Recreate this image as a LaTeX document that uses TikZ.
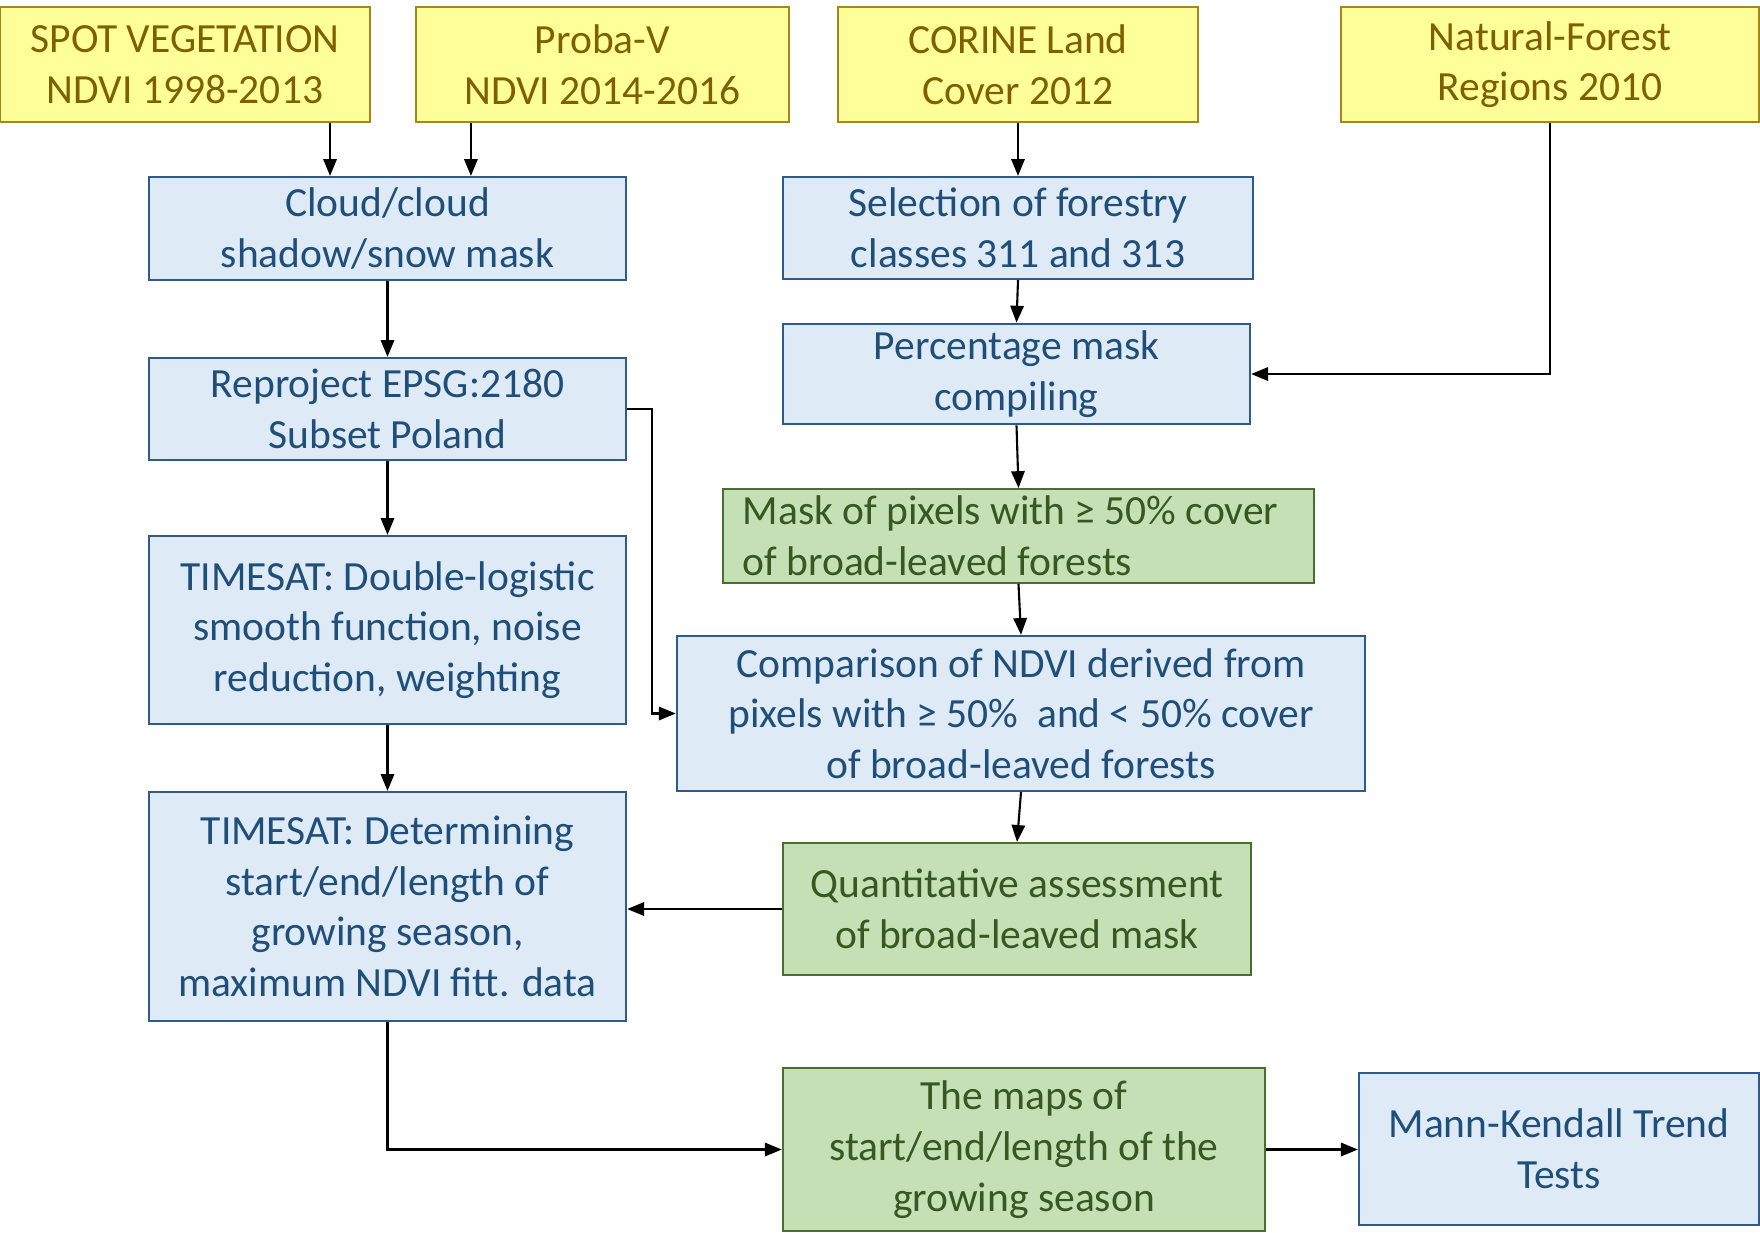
\documentclass[tikz,border=0pt]{standalone}
\usepackage{fontspec}
\setmainfont{Carlito}
\usetikzlibrary{arrows.meta}
\definecolor{srcfill}{HTML}{FFFF99}
\definecolor{srcline}{HTML}{A6851E}
\definecolor{srctext}{HTML}{7F6000}
\definecolor{stepfill}{HTML}{DEEBF7}
\definecolor{stepline}{HTML}{2F5A8A}
\definecolor{steptext}{HTML}{1F4E79}
\definecolor{resfill}{HTML}{C5E0B4}
\definecolor{resline}{HTML}{4A6E2F}
\definecolor{restext}{HTML}{385723}
\tikzset{
  box/.style={rectangle,draw,line width=0.6pt,inner sep=2pt,align=center,
    font=\fontsize{11.8}{14.4}\selectfont},
  srcbox/.style={box,fill=srcfill,draw=srcline,text=srctext},
  stepbox/.style={box,fill=stepfill,draw=stepline,text=steptext},
  resbox/.style={box,fill=resfill,draw=resline,text=restext}
}

\begin{document}
\begin{tikzpicture}[x=0.01cm,y=-0.01cm,>={Triangle[length=4.8pt,width=3.8pt]},
    line width=0.6pt]
  \useasboundingbox (0,0) rectangle (1760,1232);
  % input data sets
  \node[srcbox,minimum width=3.70cm,minimum height=1.15cm] (spot) at (185,64.5) {SPOT VEGETATION\\NDVI 1998-2013};
  \node[srcbox,minimum width=3.73cm,minimum height=1.15cm] (proba) at (602.5,64.5) {Proba-V\\NDVI 2014-2016};
  \node[srcbox,minimum width=3.60cm,minimum height=1.15cm] (corine) at (1018,64.5) {CORINE Land\\Cover 2012};
  \node[srcbox,minimum width=4.17cm,minimum height=1.15cm] (nfr) at (1550,64.5) {Natural-Forest\\Regions 2010};
  % NDVI processing chain
  \node[stepbox,minimum width=4.77cm,minimum height=1.03cm] (cloud) at (387.5,228.5) {Cloud/cloud\\shadow/snow mask};
  \node[stepbox,minimum width=4.77cm,minimum height=1.02cm] (reproj) at (387.5,409) {Reproject EPSG:2180\\Subset Poland};
  \node[stepbox,minimum width=4.77cm,minimum height=1.88cm] (tsfit) at (387.5,630) {TIMESAT: Double-logistic\\smooth function, noise\\reduction, weighting};
  \node[stepbox,minimum width=4.77cm,minimum height=2.29cm] (tspheno) at (387.5,906.5) {TIMESAT: Determining\\start/end/length of\\growing season,\\maximum NDVI fitt. data};
  % forest mask chain
  \node[stepbox,minimum width=4.70cm,minimum height=1.02cm] (select) at (1018,228) {Selection of forestry\\classes 311 and 313};
  \node[stepbox,minimum width=4.67cm,minimum height=0.96cm] (pctmask) at (1016.5,374) {Percentage mask\\compiling};
  \node[resbox,minimum width=5.91cm,minimum height=0.90cm,align=left] (bmask) at (1018.5,536) {Mask of pixels with ≥ 50\% cover\kern0.16cm\\of broad-leaved forests};
  \node[stepbox,minimum width=6.88cm,minimum height=1.55cm] (compare) at (1021,713.5) {Comparison of NDVI derived from\\pixels with ≥ 50\%\ \ and < 50\% cover\\of broad-leaved forests};
  \node[resbox,minimum width=4.68cm,minimum height=1.32cm] (quant) at (1017,909) {Quantitative assessment\\of broad-leaved mask};
  % results
  \node[resbox,minimum width=4.82cm,minimum height=1.63cm] (maps) at (1024,1149.5) {The maps of\\start/end/length of the\\growing season};
  \node[stepbox,minimum width=4.00cm,minimum height=1.52cm] (mk) at (1559,1149) {Mann-Kendall Trend\\Tests};

  \draw[->] (spot.-22.5) -- (spot.-22.5 |- cloud.north);
  \draw[->] (proba.-156.5) -- (proba.-156.5 |- cloud.north);
  \draw[->] (cloud) -- (reproj);
  \draw[->] (reproj) -- (tsfit);
  \draw[->] (tsfit) -- (tspheno);
  \draw[->] (reproj.east) -- ++(25,0) |- (compare.west);
  \draw[->] (corine) -- (select);
  \draw[->] (select.south) -- (pctmask.north);
  \draw[->] (nfr.south) |- (pctmask.east);
  \draw[->] (pctmask.south) -- (bmask.north);
  \draw[->] (bmask.south) -- (compare.north);
  \draw[->] (compare.south) -- (quant.north);
  \draw[->] (quant.west) -- (quant.west -| tspheno.east);
  \draw[->] (tspheno.south) |- (maps.west);
  \draw[->] (maps.east) -- (maps.east -| mk.west);
\end{tikzpicture}
\end{document}
